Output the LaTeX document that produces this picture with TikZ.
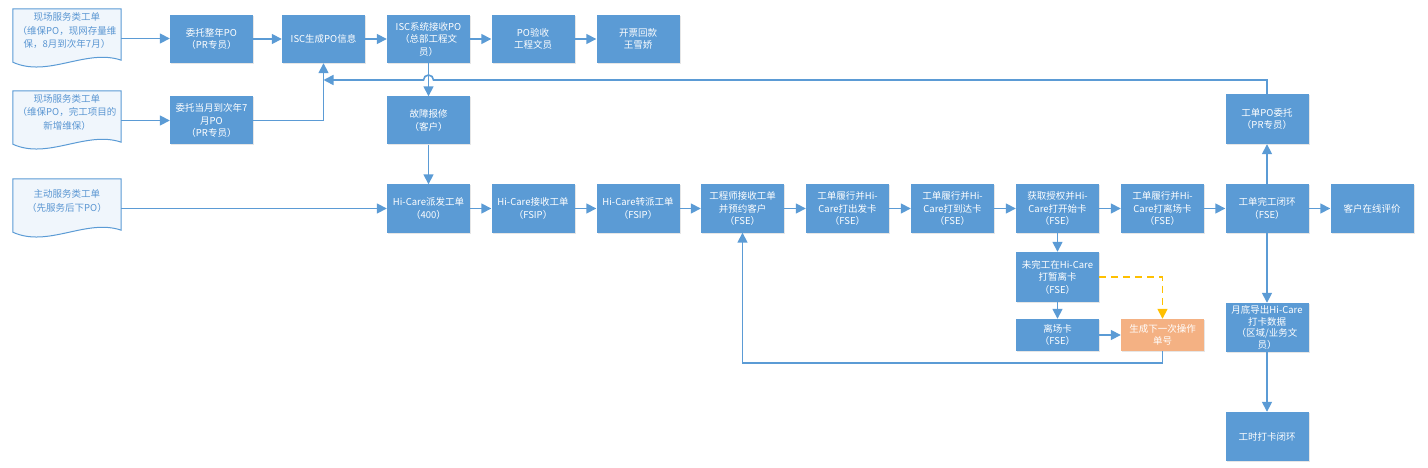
\documentclass[tikz,border=0pt]{standalone}
\usepackage{fontspec}
\setmainfont{Noto Sans CJK SC}
\usetikzlibrary{arrows.meta,shadows,calc}
\definecolor{boxblue}{HTML}{5B9BD5}
\definecolor{lineblue}{HTML}{5B9BD5}
\definecolor{docfill}{HTML}{F0F6FC}
\definecolor{doctext}{HTML}{5A96D2}
\definecolor{orangefill}{HTML}{F4B183}
\definecolor{dashyellow}{HTML}{FFC000}
\newcommand{\docoutline}[1]{\draw[docline] (#1.north west) -- (#1.north east) -- ([yshift=8pt]#1.south east) .. controls +(-35,-12) and +(35,16) .. ([yshift=6pt]#1.south west) -- cycle;}
\begin{document}
\begin{tikzpicture}[x=1pt,y=-1pt,
  box/.style={rectangle, fill=boxblue, text=white, minimum width=83pt, minimum height=48pt, inner sep=1pt, align=center, font=\fontsize{9.5}{12.5}\selectfont, drop shadow={shadow xshift=1pt,shadow yshift=-1pt,opacity=0.2,fill=black!50}},
  orangebox/.style={box, fill=orangefill},
  docnode/.style={rectangle, minimum width=108pt, minimum height=59pt, inner sep=0pt},
  doctext/.style={text=doctext, align=center, inner sep=0pt, font=\fontsize{9.5}{13.5}\selectfont},
  docline/.style={draw=lineblue, line width=1pt, fill=docfill},
  conn/.style={draw=lineblue, line width=1.6pt, -{Triangle[length=10pt,width=10pt]}},
  dashline/.style={draw=dashyellow, line width=1.6pt, dash pattern=on 7pt off 5pt, -{Triangle[length=10pt,width=10pt]}}]
\useasboundingbox (0,0) rectangle (1428,468);

% documents
\node[docnode] (d1) at (67,38.5) {};
\docoutline{d1}
\node[doctext] (d1t) at (67,31) {现场服务类工单\\（维保PO，现网存量维\\保，8月到次年7月）};
\node[docnode] (d2) at (67,120.5) {};
\docoutline{d2}
\node[doctext] (d2t) at (67,112) {现场服务类工单\\（维保PO，完工项目的\\新增维保）};
\node[docnode] (d3) at (67,208.5) {};
\docoutline{d3}
\node[doctext] (d3t) at (67,201) {主动服务类工单\\（先服务后下PO）};

% top row
\node[box] (n1) at (211.5,39) {委托整年PO\\（PR专员）};
\node[box] (n2) at (323.5,39) {ISC生成PO信息};
\node[box] (n3) at (428.5,39) {ISC系统接收PO\\（总部工程文\\员）};
\node[box] (n4) at (533,39) {PO验收\\工程文员};
\node[box] (n5) at (638,39) {开票回款\\王雪娇};

% second row
\node[box] (m1) at (211.5,120.5) {委托当月到次年7\\月PO\\（PR专员）};
\node[box] (m2) at (428.5,120.5) {故障报修\\（客户）};

% main row
\node[box] (h1) at (428.5,208.5) {Hi-Care派发工单\\（400）};
\node[box] (h2) at (533,208.5) {Hi-Care接收工单\\（FSIP）};
\node[box] (h3) at (638,208.5) {Hi-Care转派工单\\（FSIP）};
\node[box] (h4) at (742.5,208.5) {工程师接收工单\\并预约客户\\（FSE）};
\node[box] (h5) at (847.5,208.5) {工单履行并Hi-\\Care打出发卡\\（FSE）};
\node[box] (h6) at (952.5,208.5) {工单履行并Hi-\\Care打到达卡\\（FSE）};
\node[box] (h7) at (1057.5,208.5) {获取授权并Hi-\\Care打开始卡\\（FSE）};
\node[box] (h8) at (1162.5,208.5) {工单履行并Hi-\\Care打离场卡\\（FSE）};
\node[box] (h9) at (1267,208.5) {工单完工闭环\\（FSE）};
\node[box] (h10) at (1372,208.5) {客户在线评价};

% lower branch
\node[box, minimum height=50pt] (u1) at (1057.5,277) {未完工在Hi-Care\\打暂离卡\\（FSE）};
\node[box, minimum height=32pt] (u2) at (1057.5,335) {离场卡\\（FSE）};
\node[orangebox, minimum height=32pt] (u3) at (1162.5,335) {生成下一次操作\\单号};

% right column
\node[box, minimum height=50pt] (p1) at (1267,119) {工单PO委托\\（PR专员）};
\node[box, minimum height=49pt, font=\fontsize{9.5}{11.5}\selectfont] (p2) at (1267,327.5) {月底导出Hi-Care\\打卡数据\\（区域/业务文\\员）};
\node[box, minimum height=49pt] (p3) at (1267,436.5) {工时打卡闭环};

% coordinates
\coordinate (fbend) at (323.5,80);
\coordinate (hopR) at ($(n3.south |- fbend)+(5,0)$);
\coordinate (loopc) at ($(u3.south)+(0,12)$);

% connectors
\draw[conn] (d1.east) -- (d1.east -| n1.west);
\draw[conn] (n1) -- (n2);
\draw[conn] (n2) -- (n3);
\draw[conn] (n3) -- (n4);
\draw[conn] (n4) -- (n5);
\draw[conn] (d2.east) -- (d2.east -| m1.west);
\draw[conn] (m1.east) -| (n2.south);
\draw[conn] (n3.south) -- (m2.north);
\draw[conn] (p1.north) |- (hopR) arc[start angle=0,end angle=180,radius=5pt] -- (fbend);
\draw[conn] (m2) -- (h1);
\draw[conn] (d3.east) -- (d3.east -| h1.west);
\draw[conn] (h1) -- (h2);
\draw[conn] (h2) -- (h3);
\draw[conn] (h3) -- (h4);
\draw[conn] (h4) -- (h5);
\draw[conn] (h5) -- (h6);
\draw[conn] (h6) -- (h7);
\draw[conn] (h7) -- (h8);
\draw[conn] (h8) -- (h9);
\draw[conn] (h9) -- (h10);
\draw[conn] (h7) -- (u1);
\draw[conn] (u1) -- (u2);
\draw[conn] (u2) -- (u3);
\draw[dashline] (u1.east) -| (u3.north);
\draw[conn] (u3.south) -- (loopc) -| (h4.south);
\draw[conn] (h9) -- (p1);
\draw[conn] (h9) -- (p2);
\draw[conn] (p2) -- (p3);
\end{tikzpicture}
\end{document}
